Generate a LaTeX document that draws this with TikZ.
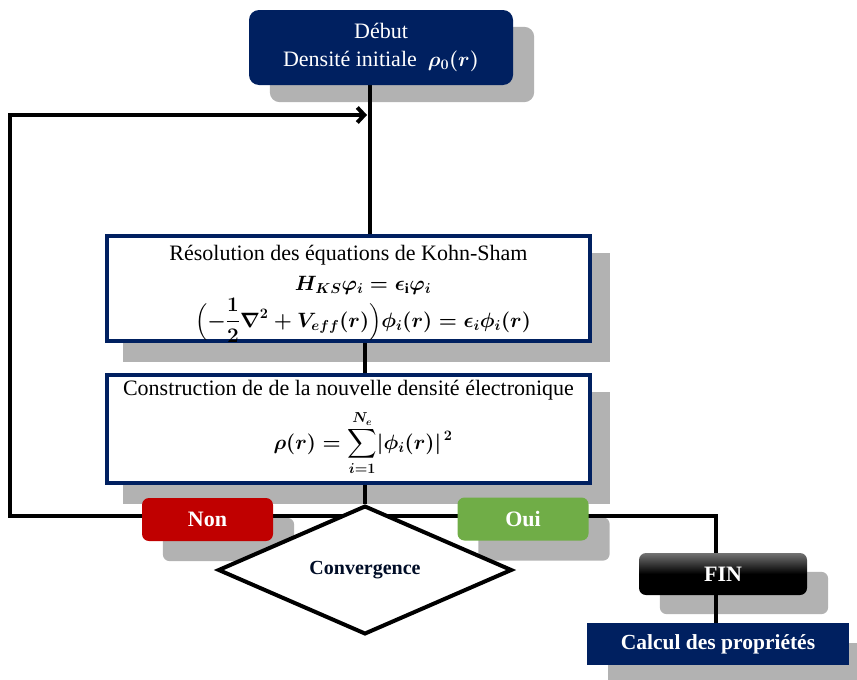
\documentclass[tikz,border=0pt]{standalone}
\usepackage{amsmath,amssymb}
\usepackage{fontspec}
\setmainfont{Liberation Serif}
\usetikzlibrary{shapes.geometric,arrows.meta,calc}
\definecolor{navy}{RGB}{0,32,96}
\definecolor{shd}{RGB}{178,178,178}
\definecolor{nonred}{RGB}{192,0,0}
\definecolor{ouigreen}{RGB}{112,173,71}
\pgfdeclarelayer{bg}\pgfdeclarelayer{mid}\pgfsetlayers{bg,mid,main}
\begin{document}
\begin{tikzpicture}[x=1pt,y=-1pt,
  link/.style={line width=4pt,draw=black},
  txt/.style={font=\fontsize{22}{28}\selectfont, align=center, inner sep=0pt},
  txtline/.style={font=\fontsize{22}{28}\selectfont, inner sep=0pt, anchor=base},
  mathline/.style={font=\fontsize{20.5}{26}\selectfont, inner sep=0pt, anchor=base},
  navybox/.style={txt, fill=navy, text=white},
  framebox/.style={fill=white, draw=navy, line width=4pt, minimum width=483pt, inner sep=0pt},
  pill/.style={txt, font=\fontsize{22}{26}\selectfont\bfseries, text=white, rounded corners=7pt, minimum width=131pt, minimum height=43pt},
  shadowfill/.style={fill=shd}]
\useasboundingbox (0,0) rectangle (857,680);

% nodes
\node[navybox, rounded corners=10pt, minimum width=264pt, minimum height=75pt] (debut) at (381,47.5)
  {Début\\Densité initiale\ \ {\boldmath$\rho_{0}(r)$}};
\node[framebox, minimum height=105pt] (ks) at (348.5,288.5) {};
\node[txtline] (ks1) at (348.5,260) {Résolution des équations de Kohn-Sham};
\node[mathline] (ks2) at (363,290) {{\boldmath$H_{KS}\varphi_i=\epsilon_{\mathrm{i}}\varphi_i$}};
\node[mathline] (ks3) at (363,327) {{\boldmath$\displaystyle\Bigl(-\frac{1}{2}\nabla^2+V_{eff}(r)\Bigr)\phi_i(r)=\epsilon_i\phi_i(r)$}};
\node[framebox, minimum height=108pt] (cons) at (348.5,429) {};
\node[txtline] (cons1) at (348.5,395) {Construction de de la nouvelle densité électronique};
\node[mathline] (cons2) at (363,449) {{\boldmath$\displaystyle\rho(r)=\sum_{i=1}^{N_e}\lvert\phi_i(r)\rvert^{\,2}$}};
\node[pill, fill=nonred] (non) at (207.5,519.5) {Non};
\node[pill, fill=ouigreen] (oui) at (523,519) {Oui};
\node[diamond, draw=black, line width=4pt, fill=white, minimum width=294pt, minimum height=74pt, inner sep=0pt,
  font=\fontsize{20}{22}\selectfont\bfseries, text={navy!40!black}] (conv) at (365,570) {Convergence};
\node[txt, font=\fontsize{22}{26}\selectfont\bfseries, text=white, rounded corners=7pt,
  top color=black!55, bottom color=black, middle color=black, minimum width=168pt, minimum height=42pt] (fin) at (723,574) {FIN};
\node[navybox, font=\fontsize{21.5}{26}\selectfont\bfseries, minimum width=262pt, minimum height=42pt] (calc) at (718,644) {Calcul des propriétés};

% named coordinates for connectors
\coordinate (s1) at (370,0);
\coordinate (s2) at (364.5,0);
\coordinate (hl) at (10,516);
\coordinate (hr) at (716,516);
\coordinate (tl) at (10,115);

% shadows
\begin{pgfonlayer}{bg}
  \fill[shadowfill, rounded corners=10pt] ($(debut.north west)+(21,17)$) rectangle ($(debut.south east)+(21,17)$);
  \fill[shadowfill] ($(ks.north west)+(18,19)$) rectangle ($(ks.south east)+(18,19)$);
  \fill[shadowfill] ($(cons.north west)+(18,19)$) rectangle ($(cons.south east)+(18,19)$);
  \fill[shadowfill, rounded corners=7pt] ($(non.north west)+(21,20)$) rectangle ($(non.south east)+(21,20)$);
  \fill[shadowfill, rounded corners=7pt] ($(oui.north west)+(21,20)$) rectangle ($(oui.south east)+(21,20)$);
  \fill[shadowfill, rounded corners=7pt] ($(fin.north west)+(21,19)$) rectangle ($(fin.south east)+(21,19)$);
  \fill[shadowfill] ($(calc.north west)+(21,20)$) rectangle ($(calc.south east)+(21,20)$);
\end{pgfonlayer}

% connectors
\begin{pgfonlayer}{mid}
  \draw[link] (debut.south -| s1) -- (ks.north -| s1);
  \draw[link] (ks.south -| s2) -- (cons.north -| s2);
  \draw[link] (cons.south -| conv.north) -- (conv.north);
  \draw[link, line join=miter, -{Straight Barb[length=7pt,width=15pt]}, shorten >=3pt] (hr) -- (hl) -- (tl) -- (tl -| s1);
  \draw[link, line join=miter] (hl) -- (hr) -- (fin.north -| hr);
  \draw[link] (fin.south -| hr) -- (calc.north -| hr);
\end{pgfonlayer}
\end{tikzpicture}
\end{document}
